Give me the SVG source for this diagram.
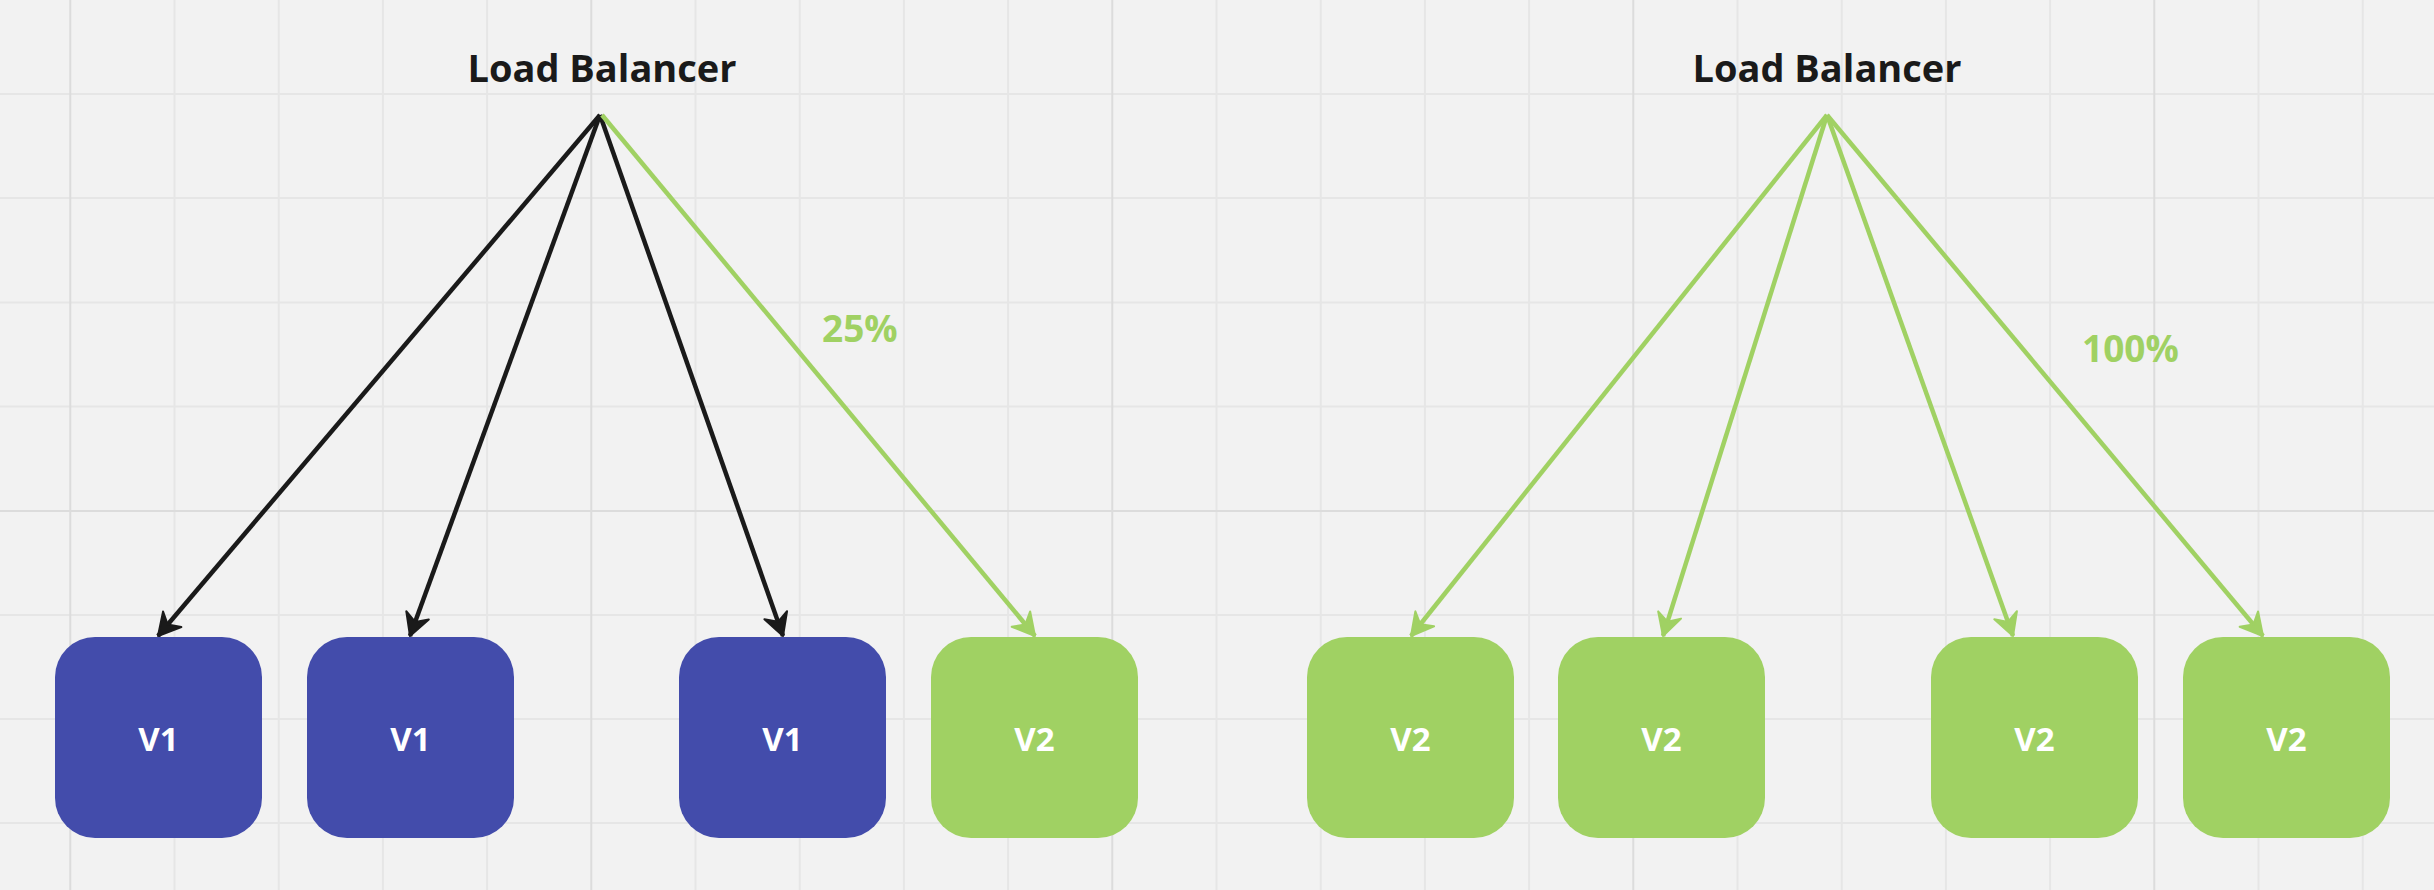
<svg xmlns="http://www.w3.org/2000/svg" width="2434" height="890" viewBox="0 0 2434 890">
  <defs>
    <style>
      .grid { stroke: #e6e6e6; stroke-width: 2; }
      .major { stroke: #dcdcdc; stroke-width: 2; }
      .box-v1 { fill: #434cab; }
      .box-v2 { fill: #a0d163; }
      .lbl { font-family: "Open Sans", "Noto Sans", sans-serif; font-weight: 700; font-size: 33px; fill: #ffffff; text-anchor: middle; }
      .title { font-family: "Open Sans", "Noto Sans", sans-serif; font-weight: 700; font-size: 38px; fill: #1a1a1a; text-anchor: middle; }
      .pct { font-family: "Open Sans", "Noto Sans", sans-serif; font-weight: 700; font-size: 37px; fill: #a0d163; }
      .c-black { stroke: #1a1a1a; stroke-width: 4.5; fill: none; marker-end: url(#ah-black); }
      .c-green { stroke: #a0d163; stroke-width: 4.5; fill: none; marker-end: url(#ah-green); }
    </style>
    <marker id="ah-black" markerUnits="userSpaceOnUse" viewBox="-26 -16 30 32" refX="0" refY="0" markerWidth="30" markerHeight="32" orient="auto">
      <path d="M0,0 L-22,-12 L-15,0 L-22,12 Z" fill="#1a1a1a" stroke="#1a1a1a" stroke-width="2" stroke-linejoin="round"/>
    </marker>
    <marker id="ah-green" markerUnits="userSpaceOnUse" viewBox="-26 -16 30 32" refX="0" refY="0" markerWidth="30" markerHeight="32" orient="auto">
      <path d="M0,0 L-22,-12 L-15,0 L-22,12 Z" fill="#a0d163" stroke="#a0d163" stroke-width="2" stroke-linejoin="round"/>
    </marker>
  </defs>

  <rect x="0" y="0" width="2434" height="890" fill="#f2f2f2"/>

  <g id="grid">
    <line class="grid" x1="174.5" y1="0" x2="174.5" y2="890"/>
    <line class="grid" x1="278.7" y1="0" x2="278.7" y2="890"/>
    <line class="grid" x1="382.9" y1="0" x2="382.9" y2="890"/>
    <line class="grid" x1="487.1" y1="0" x2="487.1" y2="890"/>
    <line class="grid" x1="695.5" y1="0" x2="695.5" y2="890"/>
    <line class="grid" x1="799.7" y1="0" x2="799.7" y2="890"/>
    <line class="grid" x1="903.9" y1="0" x2="903.9" y2="890"/>
    <line class="grid" x1="1008.1" y1="0" x2="1008.1" y2="890"/>
    <line class="grid" x1="1216.5" y1="0" x2="1216.5" y2="890"/>
    <line class="grid" x1="1320.7" y1="0" x2="1320.7" y2="890"/>
    <line class="grid" x1="1424.9" y1="0" x2="1424.9" y2="890"/>
    <line class="grid" x1="1529.1" y1="0" x2="1529.1" y2="890"/>
    <line class="grid" x1="1737.5" y1="0" x2="1737.5" y2="890"/>
    <line class="grid" x1="1841.7" y1="0" x2="1841.7" y2="890"/>
    <line class="grid" x1="1945.9" y1="0" x2="1945.9" y2="890"/>
    <line class="grid" x1="2050.1" y1="0" x2="2050.1" y2="890"/>
    <line class="grid" x1="2258.5" y1="0" x2="2258.5" y2="890"/>
    <line class="grid" x1="2362.7" y1="0" x2="2362.7" y2="890"/>
    <line class="grid" x1="0" y1="94" x2="2434" y2="94"/>
    <line class="grid" x1="0" y1="198" x2="2434" y2="198"/>
    <line class="grid" x1="0" y1="302.5" x2="2434" y2="302.5"/>
    <line class="grid" x1="0" y1="406.5" x2="2434" y2="406.5"/>
    <line class="grid" x1="0" y1="615" x2="2434" y2="615"/>
    <line class="grid" x1="0" y1="719" x2="2434" y2="719"/>
    <line class="grid" x1="0" y1="823" x2="2434" y2="823"/>
    <line class="major" x1="70.3" y1="0" x2="70.3" y2="890"/>
    <line class="major" x1="591.3" y1="0" x2="591.3" y2="890"/>
    <line class="major" x1="1112.3" y1="0" x2="1112.3" y2="890"/>
    <line class="major" x1="1633.3" y1="0" x2="1633.3" y2="890"/>
    <line class="major" x1="2154.3" y1="0" x2="2154.3" y2="890"/>
    <line class="major" x1="0" y1="511" x2="2434" y2="511"/>
  </g>

  <g id="lb-left"><text class="title" x="602" y="81.5">Load Balancer</text></g>
  <g id="lb-right"><text class="title" x="1827" y="81.5">Load Balancer</text></g>

  <g id="connectors">
    <line class="c-black" x1="600" y1="115" x2="158" y2="636"/>
    <line class="c-black" x1="600" y1="115" x2="410" y2="636"/>
    <line class="c-black" x1="600" y1="115" x2="783" y2="636"/>
    <line class="c-green" x1="602" y1="115" x2="1035" y2="636"/>
    <line class="c-green" x1="1827" y1="115" x2="1411" y2="636"/>
    <line class="c-green" x1="1827" y1="115" x2="1663" y2="636"/>
    <line class="c-green" x1="1827" y1="115" x2="2013" y2="636"/>
    <line class="c-green" x1="1827" y1="115" x2="2263" y2="636"/>
  </g>

  <g id="label-25"><text class="pct" x="822" y="342">25%</text></g>
  <g id="label-100"><text class="pct" x="2082" y="362">100%</text></g>

  <g id="node-1"><rect class="box-v1" x="55" y="637" width="207" height="201" rx="40"/><text class="lbl" x="158.5" y="751">V1</text></g>
  <g id="node-2"><rect class="box-v1" x="307" y="637" width="207" height="201" rx="40"/><text class="lbl" x="410.5" y="751">V1</text></g>
  <g id="node-3"><rect class="box-v1" x="679" y="637" width="207" height="201" rx="40"/><text class="lbl" x="782.5" y="751">V1</text></g>
  <g id="node-4"><rect class="box-v2" x="931" y="637" width="207" height="201" rx="40"/><text class="lbl" x="1034.5" y="751">V2</text></g>
  <g id="node-5"><rect class="box-v2" x="1307" y="637" width="207" height="201" rx="40"/><text class="lbl" x="1410.5" y="751">V2</text></g>
  <g id="node-6"><rect class="box-v2" x="1558" y="637" width="207" height="201" rx="40"/><text class="lbl" x="1661.5" y="751">V2</text></g>
  <g id="node-7"><rect class="box-v2" x="1931" y="637" width="207" height="201" rx="40"/><text class="lbl" x="2034.5" y="751">V2</text></g>
  <g id="node-8"><rect class="box-v2" x="2183" y="637" width="207" height="201" rx="40"/><text class="lbl" x="2286.5" y="751">V2</text></g>
</svg>
